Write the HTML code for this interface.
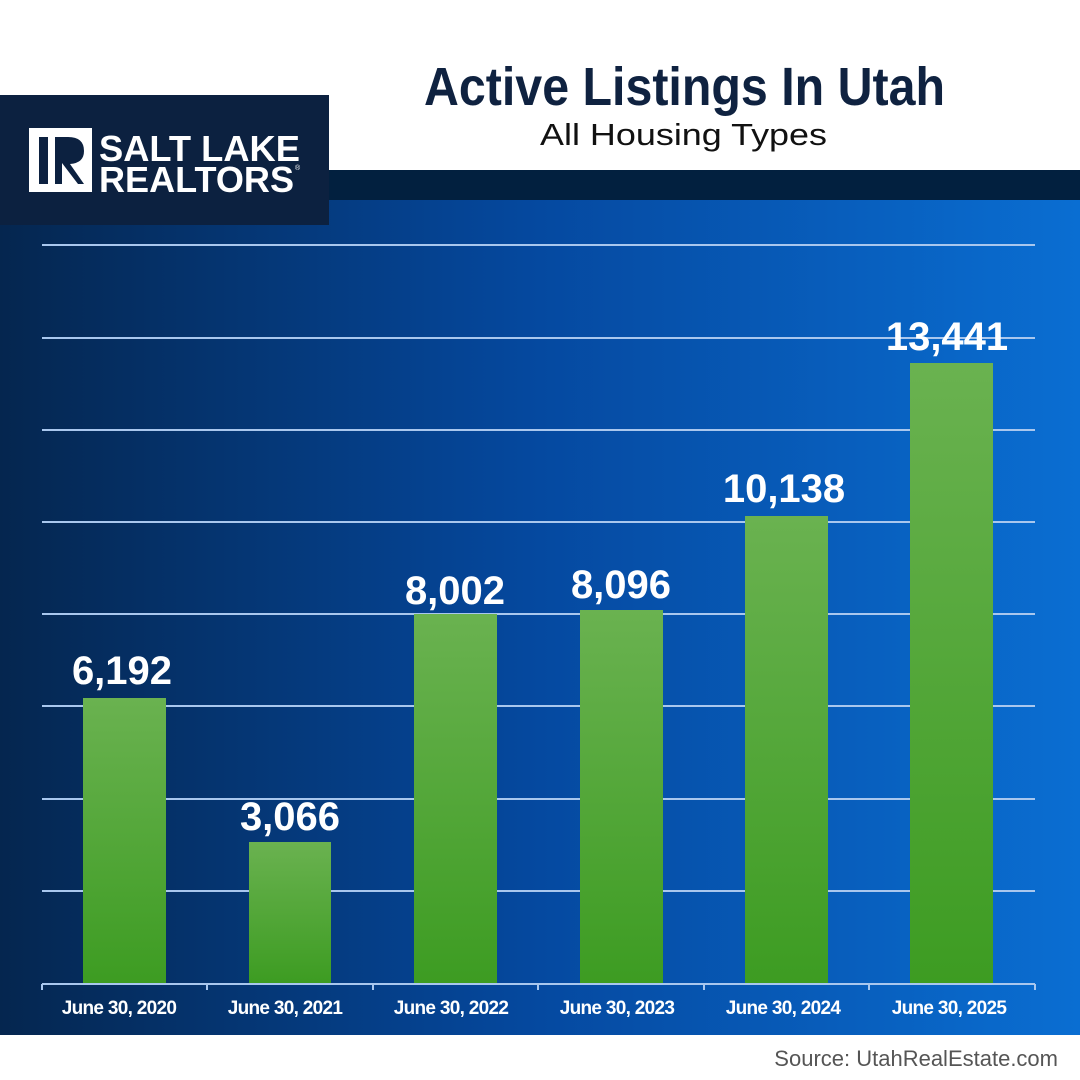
<!DOCTYPE html>
<html><head><meta charset="utf-8"><style>html,body{margin:0;padding:0;background:#fff}svg{display:block}</style></head><body>
<svg width="1080" height="1080" viewBox="0 0 1080 1080" xmlns="http://www.w3.org/2000/svg" font-family="Liberation Sans, sans-serif">
<defs>
<linearGradient id="bg" x1="0" y1="0" x2="1" y2="0">
<stop offset="0" stop-color="#05264f"/><stop offset="0.5" stop-color="#0549a0"/><stop offset="1" stop-color="#0a6ed2"/>
</linearGradient>
<linearGradient id="bar" x1="0" y1="0" x2="0" y2="1">
<stop offset="0" stop-color="#6ab250"/><stop offset="1" stop-color="#3d9c22"/>
</linearGradient>
</defs>
<rect width="1080" height="1080" fill="#fff"/>
<rect x="0" y="200" width="1080" height="835" fill="url(#bg)"/>
<rect x="0" y="170" width="1080" height="30" fill="#02203f"/>
<rect x="0" y="95" width="329" height="130" fill="#0c2140"/>
<rect x="29" y="128" width="63" height="64" fill="#fff"/>
<rect x="39" y="137" width="9" height="47" fill="#0c2140"/>
<path d="M55 137 H68 Q84 137 84 151 Q84 163 70 164 L84 184 H78 L62 163 V184 H55 Z" fill="#0c2140"/>
<text x="99" y="161" font-size="36" font-weight="bold" fill="#fff" textLength="201" lengthAdjust="spacingAndGlyphs">SALT LAKE</text>
<text x="99" y="192" font-size="36" font-weight="bold" fill="#fff" textLength="195" lengthAdjust="spacingAndGlyphs">REALTORS</text>
<text x="295" y="170" font-size="7" fill="#fff">®</text>
<text x="424" y="105" font-size="54" font-weight="bold" fill="#0f2240" textLength="521" lengthAdjust="spacingAndGlyphs">Active Listings In Utah</text>
<text x="540" y="145" font-size="31" fill="#111" textLength="287" lengthAdjust="spacingAndGlyphs">All Housing Types</text>
<g stroke="#a9c7ee" stroke-width="2">
<line x1="42" y1="245" x2="1035" y2="245"/>
<line x1="42" y1="338" x2="1035" y2="338"/>
<line x1="42" y1="430" x2="1035" y2="430"/>
<line x1="42" y1="522" x2="1035" y2="522"/>
<line x1="42" y1="614" x2="1035" y2="614"/>
<line x1="42" y1="706" x2="1035" y2="706"/>
<line x1="42" y1="799" x2="1035" y2="799"/>
<line x1="42" y1="891" x2="1035" y2="891"/>
</g>
<g fill="url(#bar)">
<rect x="83" y="698" width="83" height="285"/>
<rect x="249" y="842" width="82" height="141"/>
<rect x="414" y="614" width="83" height="369"/>
<rect x="580" y="610" width="83" height="373"/>
<rect x="745" y="516" width="83" height="467"/>
<rect x="910" y="363" width="83" height="620"/>
</g>
<g stroke="#a9c7ee" stroke-width="2">
<line x1="42" y1="984" x2="1035" y2="984"/>
<line x1="42" y1="984" x2="42" y2="990"/><line x1="207" y1="984" x2="207" y2="990"/>
<line x1="373" y1="984" x2="373" y2="990"/><line x1="538" y1="984" x2="538" y2="990"/>
<line x1="704" y1="984" x2="704" y2="990"/><line x1="869" y1="984" x2="869" y2="990"/>
<line x1="1035" y1="984" x2="1035" y2="990"/>
</g>
<g fill="#fff" font-size="40" font-weight="bold" text-anchor="middle">
<text x="122" y="684">6,192</text>
<text x="290" y="830">3,066</text>
<text x="455" y="604">8,002</text>
<text x="621" y="598">8,096</text>
<text x="784" y="502">10,138</text>
<text x="947" y="350">13,441</text>
</g>
<g fill="#fff" font-size="19" font-weight="bold" text-anchor="middle" letter-spacing="-0.7">
<text x="119" y="1014">June 30, 2020</text>
<text x="285" y="1014">June 30, 2021</text>
<text x="451" y="1014">June 30, 2022</text>
<text x="617" y="1014">June 30, 2023</text>
<text x="783" y="1014">June 30, 2024</text>
<text x="949" y="1014">June 30, 2025</text>
</g>
<text x="1058" y="1066" font-size="22" fill="#555" text-anchor="end">Source: UtahRealEstate.com</text>
</svg>
</body></html>
